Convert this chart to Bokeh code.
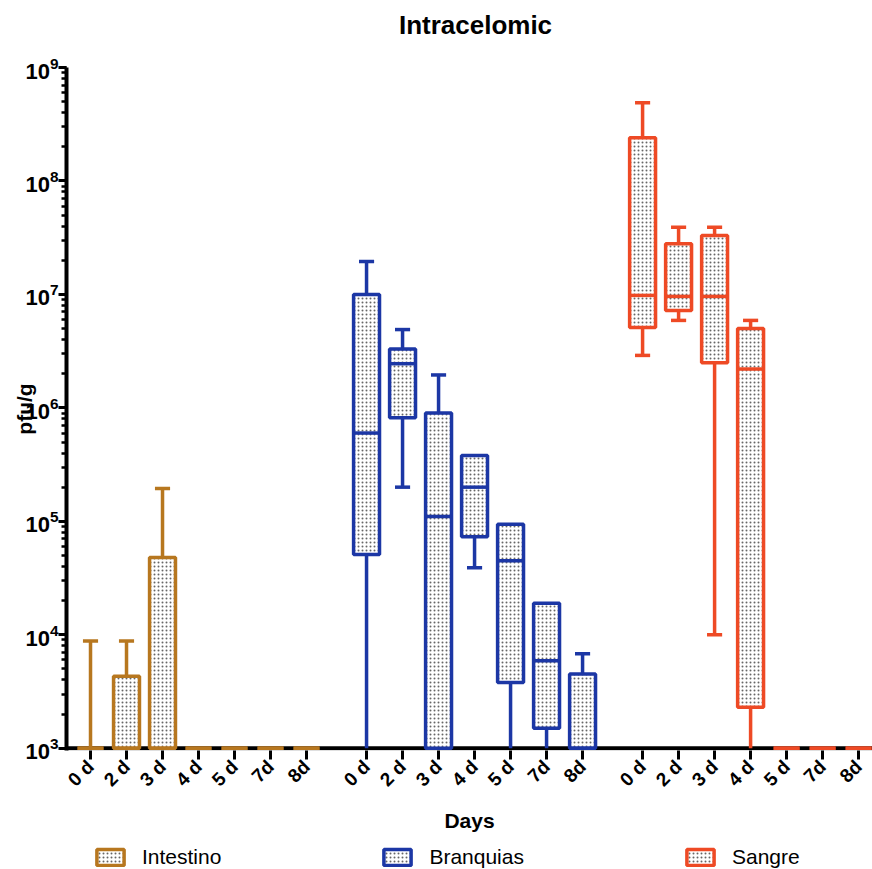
import math
from bokeh.plotting import figure
from bokeh.layouts import column
from bokeh.models import (Range1d, FixedTicker, CustomJSTickFormatter, Legend,
                          LegendItem, Span, Label)
from bokeh.embed import file_html
from bokeh.resources import INLINE

# ---------------- data ----------------
title_text = "Intracelomic"
days = ["0 d", "2 d", "3 d", "4 d", "5 d", "7d", "8d"]
groups = ["Intestino", "Branquias", "Sangre"]
colors = ["#B7771F", "#1C37A5", "#EE4A25"]

int_low = [1e3, 1e3, 1e3, 1e3, 1e3, 1e3, 1e3]
int_q1 = [1e3, 1e3, 1e3, 1e3, 1e3, 1e3, 1e3]
int_med = [1e3, 1e3, 1e3, 1e3, 1e3, 1e3, 1e3]
int_q3 = [1e3, 4.3e3, 4.8e4, 1e3, 1e3, 1e3, 1e3]
int_high = [8.8e3, 8.8e3, 1.95e5, 1e3, 1e3, 1e3, 1e3]

bra_low = [1e3, 2e5, 1e3, 3.9e4, 1e3, 1e3, 1e3]
bra_q1 = [5.1e4, 8.2e5, 1e3, 7.3e4, 3.8e3, 1.5e3, 1e3]
bra_med = [6e5, 2.45e6, 1.1e5, 2e5, 4.5e4, 5.9e3, 1e3]
bra_q3 = [1e7, 3.3e6, 9e5, 3.8e5, 9.4e4, 1.9e4, 4.5e3]
bra_high = [1.95e7, 4.9e6, 1.95e6, 3.8e5, 9.4e4, 1.9e4, 6.8e3]

san_low = [2.9e6, 5.9e6, 1e4, 1e3, 1e3, 1e3, 1e3]
san_q1 = [5.1e6, 7.2e6, 2.5e6, 2.3e3, 1e3, 1e3, 1e3]
san_med = [9.8e6, 9.6e6, 9.6e6, 2.2e6, 1e3, 1e3, 1e3]
san_q3 = [2.4e8, 2.8e7, 3.3e7, 5e6, 1e3, 1e3, 1e3]
san_high = [4.9e8, 3.9e7, 3.9e7, 5.9e6, 1e3, 1e3, 1e3]

series = [
    (int_low, int_q1, int_med, int_q3, int_high),
    (bra_low, bra_q1, bra_med, bra_q3, bra_high),
    (san_low, san_q1, san_med, san_q3, san_high),
]

# ---------------- layout constants ----------------
FLOOR = 1e3
GROUP_STEP = 7.667
BOX_HALF = 0.36
CAP_HALF = 0.21
FONT = "Liberation Sans"
BOX_STYLE = dict(fill_color="white", line_width=3.5, hatch_pattern="dot",
                 hatch_color="#666666", hatch_scale=4, hatch_weight=0.9)


def strip(height):
    f = figure(width=872, height=height, x_range=Range1d(0, 1), y_range=Range1d(0, 1),
               min_border=0, x_axis_location=None, y_axis_location=None,
               output_backend="svg", toolbar_location=None)
    f.outline_line_color = None
    f.xgrid.visible = False
    f.ygrid.visible = False
    return f


# ---------------- title strip ----------------
tf = strip(40)
tf.add_layout(Label(x=409, y=16, x_units="screen", y_units="screen", text=title_text,
                    text_align="center", text_baseline="middle", text_font=FONT,
                    text_font_size="26px", text_font_style="bold",
                    text_color="black"))

# ---------------- main plot ----------------
p = figure(width=872, height=800, y_axis_type="log",
           x_range=Range1d(-0.667, 21.72), y_range=Range1d(10 ** 2.98, 1e9),
           min_border_left=66, min_border_right=0, min_border_top=27,
           min_border_bottom=90, output_backend="svg", toolbar_location=None)
p.outline_line_color = None
p.xgrid.visible = False
p.ygrid.visible = False

baseline = Span(location=FLOOR, dimension="width", line_color="black",
                line_width=4, level="underlay")
p.add_layout(baseline)

positions = []
labels = []
for g, (low, q1, med, q3, high) in enumerate(series):
    c = colors[g]
    xs = [g * GROUP_STEP + i for i in range(len(days))]
    positions += xs
    labels += days
    # whiskers
    p.segment(x0=xs, y0=q3, x1=xs, y1=high, line_color=c, line_width=3.5)
    p.segment(x0=xs, y0=low, x1=xs, y1=q1, line_color=c, line_width=3.5)
    # caps
    hx = [x for x, h, t in zip(xs, high, q3) if h > t]
    hy = [h for h, t in zip(high, q3) if h > t]
    p.segment(x0=[x - CAP_HALF for x in hx], y0=hy, x1=[x + CAP_HALF for x in hx],
              y1=hy, line_color=c, line_width=3.5)
    lx = [x for x, l, b in zip(xs, low, q1) if FLOOR < l < b]
    ly = [l for l, b in zip(low, q1) if FLOOR < l < b]
    p.segment(x0=[x - CAP_HALF for x in lx], y0=ly, x1=[x + CAP_HALF for x in lx],
              y1=ly, line_color=c, line_width=3.5)
    # boxes
    p.quad(left=[x - BOX_HALF for x in xs], right=[x + BOX_HALF for x in xs],
           bottom=q1, top=q3, line_color=c, **BOX_STYLE)
    # medians
    p.segment(x0=[x - BOX_HALF for x in xs], y0=med, x1=[x + BOX_HALF for x in xs],
              y1=med, line_color=c, line_width=3.5)

# ---------------- axes ----------------
xa = p.xaxis[0]
xa.ticker = FixedTicker(ticks=positions, minor_ticks=[])
xa.formatter = CustomJSTickFormatter(args=dict(labels=labels),
                                     code="return labels[index];")
xa.axis_line_color = None
xa.major_tick_out = 9
xa.major_tick_in = 0
xa.major_tick_line_width = 3
xa.minor_tick_line_color = None
xa.major_label_orientation = math.pi / 4
xa.major_label_text_font = FONT
xa.major_label_text_font_size = "19px"
xa.major_label_text_font_style = "bold"
xa.major_label_text_color = "black"
xa.major_label_standoff = 4
xa.axis_label = "Days"
xa.axis_label_text_font = FONT
xa.axis_label_text_font_size = "21px"
xa.axis_label_text_font_style = "bold"
xa.axis_label_text_color = "black"
xa.axis_label_standoff = 8

ya = p.yaxis[0]
ya.axis_line_width = 4
ya.major_tick_out = 8
ya.major_tick_in = 0
ya.major_tick_line_width = 3
ya.minor_tick_out = 5
ya.minor_tick_in = 0
ya.minor_tick_line_width = 2.5
ya.major_label_text_font = FONT
ya.major_label_text_font_size = "22px"
ya.major_label_text_font_style = "bold"
ya.major_label_text_color = "black"
ya.major_label_standoff = 0
ya.axis_label = "pfu/g"
ya.axis_label_text_font = FONT
ya.axis_label_text_font_size = "21px"
ya.axis_label_text_font_style = "bold"
ya.axis_label_text_color = "black"
ya.axis_label_standoff = -14

# ---------------- legend strip ----------------
lf = strip(29)
items = []
for g in range(3):
    # one hidden swatch per series: only its style is used, by the legend
    r = lf.quad(left=[0], right=[1], bottom=[0], top=[1], line_color=colors[g],
                **BOX_STYLE)
    r.visible = False
    items.append(LegendItem(label=groups[g], renderers=[r]))
leg = Legend(items=items, location=(27, 0), orientation="horizontal", spacing=159,
             glyph_width=34, glyph_height=20, label_standoff=15,
             label_text_font=FONT, label_text_font_size="21px",
             label_text_color="black", click_policy="none",
             padding=0, margin=0, border_line_color=None,
             background_fill_alpha=0)
lf.add_layout(leg)

open("out.html", "w").write(file_html(column(tf, p, lf, spacing=0), INLINE))
